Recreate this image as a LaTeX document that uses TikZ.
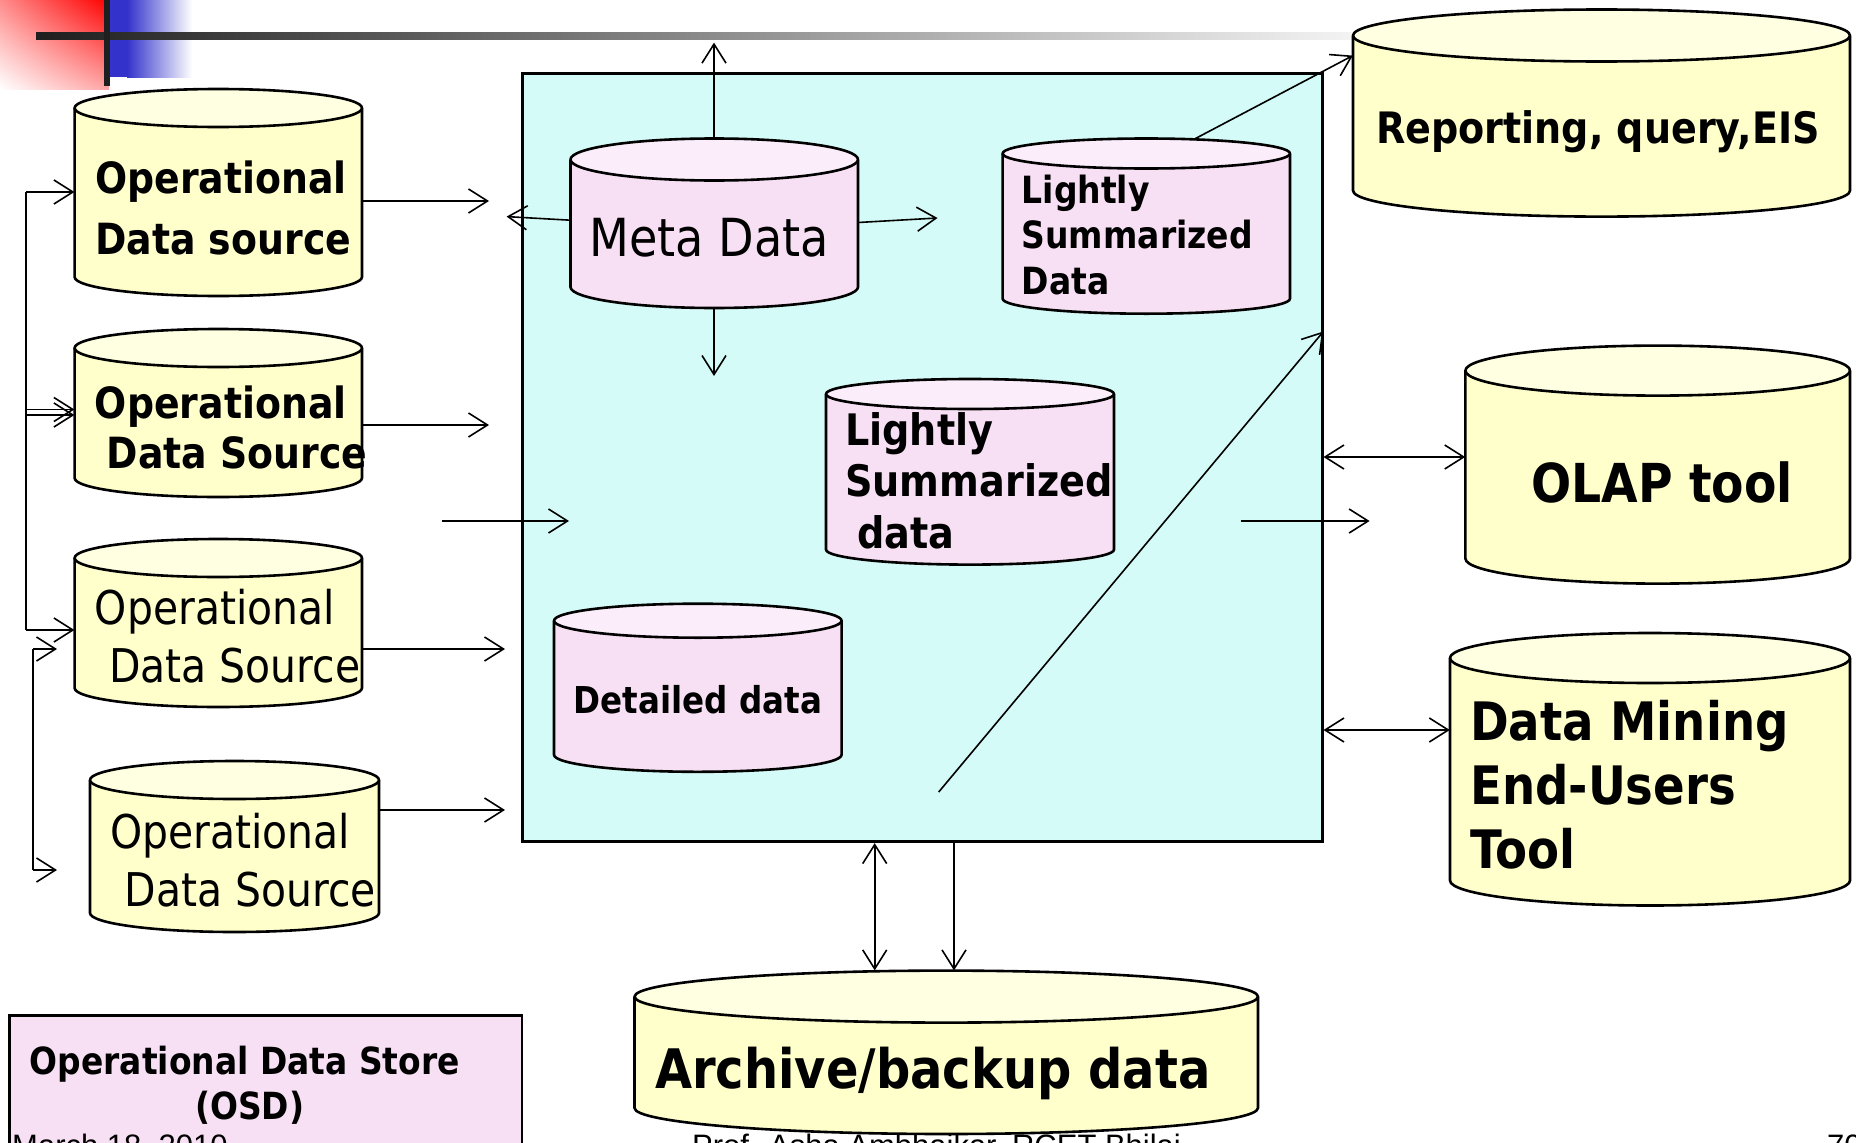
\documentclass[tikz,border=0pt]{standalone}
\usepackage{fontspec}
\setmainfont{DejaVu Sans}[FakeStretch=0.88]
\newfontfamily\footfont{Liberation Sans}
\usetikzlibrary{arrows.meta,fit,shadings}
\definecolor{cyanbg}{HTML}{D4FBF7}
\definecolor{ylw}{HTML}{FFFFCC}
\definecolor{ylwtop}{HTML}{FFFFE2}
\definecolor{pnk}{HTML}{F8E0F4}
\definecolor{pnktop}{HTML}{FBEEFA}
\definecolor{blu}{HTML}{3333CC}
\newcommand\bfs[1]{\fontsize{#1pt}{#1pt}\selectfont\bfseries}
\newcommand\rgs[1]{\fontsize{#1pt}{#1pt}\selectfont}
\tikzset{
  arr/.style={line width=1.6pt,-{Straight Barb[length=19pt,width=24pt]}},
  darr/.style={line width=1.6pt,{Straight Barb[length=19pt,width=24pt]}-{Straight Barb[length=19pt,width=24pt]}},
  plain/.style={line width=1.6pt},
  outline/.style={line width=2.6pt,line join=round},
  txt/.style={inner sep=0pt,anchor=base west},
  ctxt/.style={inner sep=0pt,anchor=base},
  foot/.style={inner sep=0pt,anchor=base west,font=\footfont\fontsize{31pt}{31pt}\selectfont},
}
% name, x1, y1, x2, y2, ry, body colour, top colour
\newcommand\dbcyl[8]{%
  \pgfmathsetmacro\cxa{(#2+#4)/2}%
  \pgfmathsetmacro\rxa{(#4-#2)/2}%
  \filldraw[outline,fill=#7] (#2,#3+#6) -- (#2,#5-#6)
     arc[start angle=180,end angle=360,x radius=\rxa pt,y radius=#6pt] -- (#4,#3+#6);
  \filldraw[outline,fill=#8] (\cxa,#3+#6) ellipse[x radius=\rxa pt,y radius=#6pt];
  \path (#2,#3) coordinate (#1-nw) (#4,#5) coordinate (#1-se);
  \node[inner sep=0pt,fit=(#1-nw)(#1-se)] (#1) {};
}
\begin{document}
\begin{tikzpicture}[x=1pt,y=-1pt]
\useasboundingbox (0,0) rectangle (1856,1143);
% slide decoration
\shade[upper right=red,upper left=red!45,lower right=red!35,lower left=white] (0,0) rectangle (109,89);
\fill[blu] (110,0) rectangle (127,77);
\shade[left color=blu,right color=white] (127,0) rectangle (192,77);
\shade[left color=black!88,right color=black!4] (36,32) rectangle (1362,39);
\fill[black!88] (104,0) rectangle (110,86);

% central warehouse box
\path (522,73.4) coordinate (dw-nw) (1322,841.6) coordinate (dw-se);
\node[draw,line width=3pt,fill=cyanbg,inner sep=0pt,fit=(dw-nw)(dw-se)] (dw) {};

% left source cylinders
\dbcyl{src1}{74.6}{89}{362}{296}{19}{ylw}{ylwtop}
\dbcyl{src2}{74.6}{329}{362}{497}{19}{ylw}{ylwtop}
\dbcyl{src3}{74.6}{539}{362}{707}{19}{ylw}{ylwtop}
\dbcyl{src4}{90}{761}{379}{932}{19}{ylw}{ylwtop}
\node[txt,font=\bfs{43}] (s1a) at (95,193) {Operational};
\node[txt,font=\bfs{43}] (s1b) at (95,254) {Data source};
\node[txt,font=\bfs{43}] (s2a) at (94.7,418) {Operational};
\node[txt,font=\bfs{43}] (s2b) at (106.5,468) {Data Source};
\node[txt,font=\rgs{46.5}] (s3a) at (94.7,624) {Operational};
\node[txt,font=\rgs{46.5}] (s3b) at (108.9,682) {Data Source};
\node[txt,font=\rgs{46.5}] (s4a) at (110,848) {Operational};
\node[txt,font=\rgs{46.5}] (s4b) at (124.3,906) {Data Source};

% inner cylinders
\dbcyl{meta}{570.5}{138.5}{858}{308}{21}{pnk}{pnktop}
\node[ctxt,font=\rgs{52.5}] (metat) at (709,256) {Meta Data};
\dbcyl{lsd1}{1002.6}{138.5}{1290}{313.7}{15}{pnk}{pnktop}
\node[txt,font=\bfs{37.5}] (l1a) at (1021.5,203) {Lightly};
\node[txt,font=\bfs{37.5}] (l1b) at (1021.5,248) {Summarized};
\node[txt,font=\bfs{37.5}] (l1c) at (1021.5,294) {Data};
\dbcyl{lsd2}{826}{379}{1114}{564.6}{15}{pnk}{pnktop}
\node[txt,font=\bfs{43.4}] (l2a) at (845,445.5) {Lightly};
\node[txt,font=\bfs{43.4}] (l2b) at (845,496.4) {Summarized};
\node[txt,font=\bfs{43.4}] (l2c) at (857,548.5) {data};
\dbcyl{det}{554}{603.7}{841.6}{771.8}{17}{pnk}{pnktop}
\node[ctxt,font=\bfs{37}] (dett) at (698,713) {Detailed data};

% right-hand tools
\dbcyl{rep}{1353}{9.5}{1850}{216.6}{26}{ylw}{ylwtop}
\node[ctxt,font=\bfs{43.3}] (rept) at (1598,143.6) {Reporting, query,EIS};
\dbcyl{olap}{1465.4}{345.6}{1850}{583.6}{25}{ylw}{ylwtop}
\node[ctxt,font=\bfs{53.7}] (olapt) at (1662,502.6) {OLAP tool};
\dbcyl{dm}{1450}{633}{1850}{905.5}{25}{ylw}{ylwtop}
\node[txt,font=\bfs{53}] (dma) at (1470,740) {Data Mining};
\node[txt,font=\bfs{53}] (dmb) at (1470,804) {End-Users};
\node[txt,font=\bfs{53}] (dmc) at (1470,868) {Tool};

% archive
\dbcyl{arch}{634.5}{970.6}{1258}{1134}{26}{ylw}{ylwtop}
\node[ctxt,font=\bfs{54.5}] (archt) at (932.8,1088.8) {Archive/backup data};

% ODS box
\path (9.5,1015.6) coordinate (osd-nw) (522,1160) coordinate (osd-se);
\node[draw,line width=2.6pt,fill=pnk,inner sep=0pt,fit=(osd-nw)(osd-se)] (osd) {};
\node[txt,font=\bfs{37.4}] (osda) at (29.6,1074) {Operational Data Store};
\node[ctxt,font=\bfs{37.4}] (osdb) at (249.8,1119) {(OSD)};

% footer (cut by the page edge, as in the slide)
\node[foot] (f1) at (12,1156) {March 18, 2010};
\node[foot] (f2) at (692,1156) {Prof. Asha Ambhaikar, RCET Bhilai};
\node[foot] (f3) at (1827,1156) {70};

% left bus connectors
\coordinate (busA) at (26,192);
\coordinate (busB) at (26,630);
\draw[plain] (busA) -- (busB);
\draw[arr] (busA) -- (src1.west |- busA);
\draw[arr] (26,409.5) -- (src2.west |- 0,409.5);
\draw[arr] (26,415) -- (src2.west |- 0,415);
\draw[arr] (busB) -- (src3.west |- busB);
\coordinate (busC) at (33,649);
\coordinate (busD) at (33,870);
\coordinate (busCe) at (57,649);
\coordinate (busDe) at (57,870);
\draw[plain] (busC) -- (busD);
\draw[arr] (busC) -- (busCe);
\draw[arr] (busD) -- (busDe);

% sources into warehouse
\coordinate (in1) at (489,201);
\coordinate (in2) at (489,425);
\coordinate (in3) at (505,649);
\coordinate (in4) at (505,810);
\draw[arr] (src1.east |- in1) -- (in1);
\draw[arr] (src2.east |- in2) -- (in2);
\draw[arr] (src3.east |- in3) -- (in3);
\draw[arr] (src4.east |- in4) -- (in4);
\coordinate (midA) at (441.5,521);
\coordinate (midB) at (569,521);
\draw[arr] (midA) -- (midB);

% meta data arrows
\coordinate (metaUp) at (714,42.6);
\coordinate (metaDn) at (714,376);
\coordinate (metaL) at (506.6,216.6);
\coordinate (metaR) at (937.5,218);
\draw[arr] (meta.north -| metaUp) -- (metaUp);
\draw[arr] (meta.south -| metaDn) -- (metaDn);
\draw[arr] (meta.west |- 0,220.2) -- (metaL);
\draw[arr] (meta.east |- 0,222.5) -- (metaR);

% to reporting
\coordinate (lsdTop) at (1195.5,138.5);
\draw[arr] (lsdTop) -- (rep.west |- 0,55.6);

% diagonal and right arrows
\coordinate (diagA) at (938.7,792);
\draw[arr] (diagA) -- (dw.east |- 0,331.4);
\coordinate (outA) at (1240.5,521);
\coordinate (outB) at (1369.6,521);
\draw[arr] (outA) -- (outB);
\draw[darr] (dw.east |- 0,457) -- (olap.west |- 0,457);
\draw[darr] (dw.east |- 0,730) -- (dm.west |- 0,730);

% archive arrows
\coordinate (ax1) at (874.7,0);
\coordinate (ax2) at (954,0);
\draw[darr] (dw.south -| ax1) -- (arch.north -| ax1);
\draw[arr] (dw.south -| ax2) -- (arch.north -| ax2);
\end{tikzpicture}
\end{document}
